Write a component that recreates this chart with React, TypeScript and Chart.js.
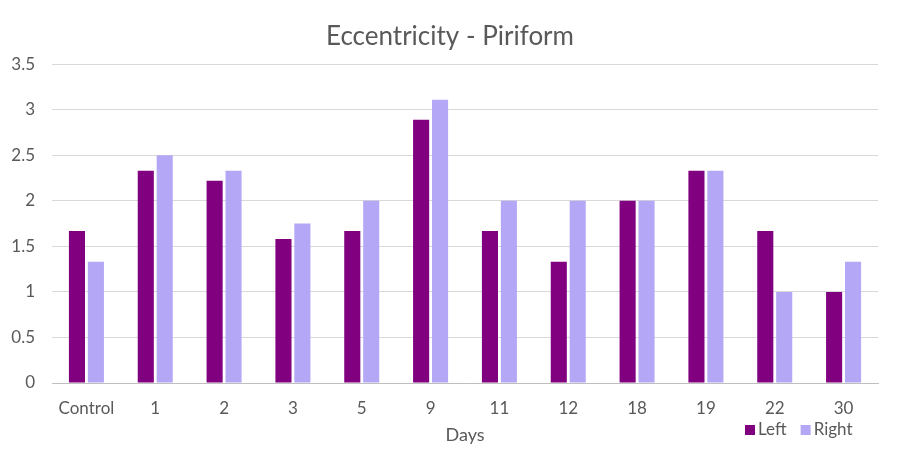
import React, { useEffect, useRef } from "react";
import { Chart, registerables } from "chart.js";

Chart.register(...registerables);

const categories = ["Control", "1", "2", "3", "5", "9", "11", "12", "18", "19", "22", "30"];
const leftValues = [1.67, 2.33, 2.22, 1.58, 1.67, 2.89, 1.67, 1.33, 2.0, 2.33, 1.67, 1.0];
const rightValues = [1.33, 2.5, 2.33, 1.75, 2.0, 3.11, 2.0, 2.0, 2.0, 2.33, 1.0, 1.33];
const seriesNames = ["Left", "Right"];
const seriesColors = ["#800080", "#B4A7F5"];

const FONT = "Lato, 'Open Sans', sans-serif";

const legendPlugin = {
  id: "customLegend",
  afterDraw(chart: any) {
    const ctx = chart.ctx;
    ctx.save();
    ctx.font = `17px ${FONT}`;
    ctx.textBaseline = "middle";
    let x = 745;
    const y = 430;
    chart.data.datasets.forEach((ds: any) => {
      ctx.fillStyle = ds.backgroundColor;
      ctx.fillRect(x, y - 5, 10, 10);
      ctx.fillStyle = "#595959";
      ctx.fillText(ds.label, x + 13, y);
      x += 13 + ctx.measureText(ds.label).width + 14;
    });
    ctx.restore();
  },
};

export default function App() {
  const ref = useRef<HTMLCanvasElement | null>(null);
  useEffect(() => {
    document.body.style.margin = "0";
    if (!ref.current) return;
    const chart = new Chart(ref.current, {
      type: "bar",
      data: {
        labels: categories,
        datasets: [
          { label: seriesNames[0], data: leftValues, backgroundColor: seriesColors[0] },
          { label: seriesNames[1], data: rightValues, backgroundColor: seriesColors[1] },
        ],
      },
      options: {
        animation: false,
        responsive: false,
        maintainAspectRatio: false,
        layout: { padding: { left: 0, right: 0, top: 0, bottom: 3 } },
        datasets: { bar: { categoryPercentage: 0.55, barPercentage: 0.85 } },
        plugins: {
          legend: { display: false },
          tooltip: { enabled: false },
          title: {
            display: true,
            text: "Eccentricity - Piriform",
            color: "#595959",
            font: { family: FONT, size: 26, weight: "normal" },
            padding: { top: 21, bottom: 12 },
          },
        },
        scales: {
          x: {
            afterFit: (scale: any) => {
              scale.height = 63;
            },
            grid: { display: false, drawTicks: false },
            border: { display: true, color: "#bfbfbf", width: 1 },
            ticks: { color: "#595959", font: { family: FONT, size: 17 }, padding: 15 },
            title: {
              display: true,
              text: "Days",
              color: "#595959",
              font: { family: FONT, size: 18 },
              padding: { top: 6, bottom: 0 },
            },
          },
          y: {
            min: 0,
            max: 3.5,
            afterFit: (scale: any) => {
              scale.width = 52;
            },
            ticks: {
              stepSize: 0.5,
              color: "#595959",
              font: { family: FONT, size: 17 },
              padding: 17,
              callback: (v: any) => String(Number(v)),
            },
            grid: { color: "#d9d9d9", drawTicks: false },
            border: { display: false },
          },
          yr: {
            position: "right",
            display: true,
            min: 0,
            max: 1,
            afterFit: (scale: any) => {
              scale.width = 22;
            },
            ticks: { display: false },
            grid: { display: false, drawTicks: false },
            border: { display: false },
          },
        },
      },
      plugins: [legendPlugin],
    });
    return () => chart.destroy();
  }, []);
  return (
    <div style={{ position: "fixed", left: 0, top: 0, width: 900, height: 449, background: "#fff" }}>
      <canvas ref={ref} width={900} height={449} style={{ width: 900, height: 449 }} />
    </div>
  );
}
